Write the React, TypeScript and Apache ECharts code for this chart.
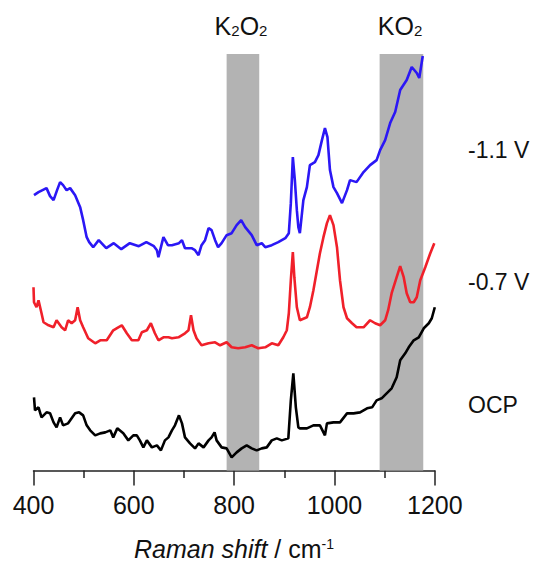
import React, { useEffect, useRef } from "react";
import * as echarts from "echarts";

const FONT = "'Liberation Sans', Arial, Helvetica, sans-serif";

// Raman shift (cm-1) tick labels
const xTicks = [400, 600, 800, 1000, 1200];

// Highlighted regions (cm-1)
const k2o2Band = [785, 850];
const ko2Band = [1090, 1177];

// -1.1 V spectrum (blue), offset intensity (a.u.)
const shiftM11 = [401, 410, 426, 433, 440, 447, 453, 459, 466, 473, 483, 493, 499, 506, 511, 519, 530, 545, 560, 575, 592, 610, 625, 640, 646, 649, 659, 668, 676, 690, 696, 702, 715, 722, 729, 735, 742, 749, 755, 762, 768, 775, 785, 795, 805, 814, 822, 835, 845, 855, 862, 875, 888, 902, 909, 913, 917, 921, 925, 928, 931, 938, 945, 951, 961, 968, 975, 981, 986, 991, 998, 1005, 1015, 1025, 1031, 1044, 1058, 1071, 1084, 1091, 1101, 1111, 1121, 1131, 1144, 1154, 1164, 1169, 1176];
const intM11 = [275, 278, 282, 274, 270, 280, 288, 285, 280, 282, 275, 263, 250, 233, 228, 223, 230, 222, 227, 221, 227, 224, 228, 224, 220, 213, 233, 225, 225, 227, 230, 222, 222, 220, 215, 225, 230, 242, 240, 230, 223, 227, 235, 237, 245, 250, 243, 235, 225, 227, 223, 225, 228, 232, 237, 267, 313, 290, 260, 243, 237, 270, 283, 305, 308, 315, 330, 342, 333, 300, 283, 277, 267, 280, 290, 288, 298, 305, 310, 320, 330, 347, 358, 380, 390, 403, 397, 392, 414];

// -0.7 V spectrum (red)
const shiftM07 = [400, 401, 406, 410, 416, 420, 430, 440, 446, 456, 463, 469, 476, 483, 488, 493, 499, 509, 523, 533, 546, 559, 569, 576, 586, 596, 609, 616, 626, 634, 642, 649, 659, 669, 676, 689, 702, 709, 714, 719, 725, 735, 749, 762, 772, 785, 795, 808, 822, 835, 848, 862, 875, 888, 898, 905, 909, 913, 917, 920, 925, 931, 945, 951, 958, 965, 971, 978, 985, 991, 998, 1005, 1011, 1018, 1025, 1035, 1044, 1058, 1071, 1081, 1091, 1101, 1107, 1114, 1124, 1131, 1138, 1144, 1151, 1158, 1164, 1171, 1181, 1191, 1199];
const intM07 = [183, 168, 163, 170, 157, 148, 145, 143, 150, 143, 140, 150, 147, 150, 163, 150, 143, 132, 127, 130, 130, 140, 143, 145, 137, 130, 130, 138, 140, 147, 137, 130, 133, 133, 132, 133, 137, 140, 155, 140, 132, 125, 127, 128, 125, 128, 123, 122, 123, 125, 122, 123, 127, 125, 133, 140, 157, 190, 218, 193, 163, 150, 153, 163, 180, 200, 217, 233, 247, 255, 245, 223, 190, 163, 152, 147, 143, 143, 150, 147, 145, 150, 160, 177, 193, 204, 193, 177, 168, 168, 173, 190, 203, 217, 227];

// OCP spectrum (black)
const shiftOCP = [401, 403, 410, 416, 426, 433, 440, 446, 453, 459, 469, 476, 483, 491, 499, 506, 513, 523, 533, 543, 553, 559, 567, 579, 589, 599, 606, 612, 619, 626, 636, 646, 654, 662, 669, 676, 682, 690, 696, 702, 712, 722, 729, 739, 749, 755, 761, 765, 775, 785, 795, 805, 815, 825, 835, 845, 855, 865, 875, 885, 895, 908, 913, 918, 923, 928, 931, 945, 958, 971, 981, 985, 998, 1011, 1025, 1038, 1051, 1065, 1075, 1084, 1094, 1104, 1114, 1124, 1131, 1141, 1148, 1158, 1168, 1178, 1188, 1194, 1200];
const intOCP = [73, 60, 63, 53, 58, 57, 48, 43, 53, 45, 47, 52, 57, 58, 55, 45, 40, 35, 37, 38, 40, 33, 42, 37, 30, 35, 35, 30, 23, 30, 23, 25, 20, 30, 33, 40, 45, 55, 47, 33, 27, 22, 27, 23, 30, 33, 38, 30, 23, 22, 13, 18, 22, 25, 22, 20, 22, 23, 30, 32, 30, 32, 70, 97, 63, 43, 42, 42, 45, 45, 35, 47, 48, 48, 57, 57, 58, 62, 63, 70, 72, 77, 82, 93, 110, 117, 123, 130, 133, 142, 147, 152, 163];

const zip = (xs: number[], ys: number[]) => xs.map((x, i) => [x, ys[i]]);

export default function App() {
  const ref = useRef<HTMLDivElement>(null);
  useEffect(() => {
    if (!ref.current) return;
    const chart = echarts.init(ref.current, null, { renderer: "svg" });
    const axisColor = "#222";
    const lineW = 2.6;
    const mainRich = { fontSize: 25, fontFamily: FONT, fill: "#111", lineHeight: 26, verticalAlign: "bottom" };
    const subRich = { fontSize: 15, fontFamily: FONT, fill: "#111", lineHeight: 25, verticalAlign: "bottom" };
    chart.setOption({
      animation: false,
      grid: { left: 33.5, right: 107.2, top: 54, bottom: 91.6 },
      xAxis: {
        type: "value",
        min: xTicks[0],
        max: xTicks[xTicks.length - 1],
        interval: 200,
        axisLine: { lineStyle: { color: axisColor, width: 1.5 } },
        axisTick: { length: 15, lineStyle: { color: axisColor, width: 1.5 } },
        minorTick: { show: true, splitNumber: 2, length: 7.5, lineStyle: { color: axisColor, width: 1.5 } },
        splitLine: { show: false },
        minorSplitLine: { show: false },
        axisLabel: {
          fontSize: 25,
          color: "#111",
          margin: 22,
          fontFamily: FONT,
          formatter: (v: number) => String(v),
        },
      },
      yAxis: { type: "value", min: 0, max: 416, show: false },
      series: [
        {
          type: "line",
          data: [],
          silent: true,
          z: 1,
          markArea: {
            silent: true,
            itemStyle: { color: "#b3b3b3", opacity: 1 },
            data: [
              [{ xAxis: k2o2Band[0] }, { xAxis: k2o2Band[1] }],
              [{ xAxis: ko2Band[0] }, { xAxis: ko2Band[1] }],
            ],
          },
        },
        {
          name: "-1.1 V",
          type: "line",
          data: zip(shiftM11, intM11),
          showSymbol: false,
          z: 3,
          lineStyle: { color: "#2b17f5", width: lineW },
        },
        {
          name: "-0.7 V",
          type: "line",
          data: zip(shiftM07, intM07),
          showSymbol: false,
          z: 3,
          lineStyle: { color: "#f0202a", width: lineW },
        },
        {
          name: "OCP",
          type: "line",
          data: zip(shiftOCP, intOCP),
          showSymbol: false,
          z: 3,
          lineStyle: { color: "#000000", width: lineW },
        },
      ],
      graphic: [
        {
          type: "text",
          x: 241,
          y: 25,
          style: {
            text: "{a|K}{b|2}{a|O}{b|2}",
            align: "center",
            verticalAlign: "middle",
            fill: "#111",
            rich: { a: mainRich, b: subRich },
          },
        },
        {
          type: "text",
          x: 400,
          y: 25,
          style: {
            text: "{a|KO}{b|2}",
            align: "center",
            verticalAlign: "middle",
            fill: "#111",
            rich: { a: mainRich, b: subRich },
          },
        },
        { type: "text", x: 468, y: 150, style: { text: "-1.1 V", fontSize: 23, fontFamily: FONT, fill: "#111", align: "left", verticalAlign: "middle" } },
        { type: "text", x: 468, y: 282, style: { text: "-0.7 V", fontSize: 23, fontFamily: FONT, fill: "#111", align: "left", verticalAlign: "middle" } },
        { type: "text", x: 468, y: 405, style: { text: "OCP", fontSize: 23, fontFamily: FONT, fill: "#111", align: "left", verticalAlign: "middle" } },
        {
          type: "text",
          x: 234,
          y: 549,
          style: {
            text: "{i|Raman shift}{n| / cm}{s|-1}",
            align: "center",
            verticalAlign: "middle",
            fill: "#111",
            rich: {
              i: { fontSize: 25, fontStyle: "italic", fontFamily: FONT, fill: "#111", lineHeight: 24, verticalAlign: "bottom" },
              n: { fontSize: 25, fontFamily: FONT, fill: "#111", lineHeight: 24, verticalAlign: "bottom" },
              s: { fontSize: 14, fontFamily: FONT, fill: "#111", lineHeight: 24, verticalAlign: "top" },
            },
          },
        },
      ],
    });
    return () => chart.dispose();
  }, []);
  return <div ref={ref} style={{ position: "absolute", left: 0, top: 0, width: 542, height: 562 }} />;
}
